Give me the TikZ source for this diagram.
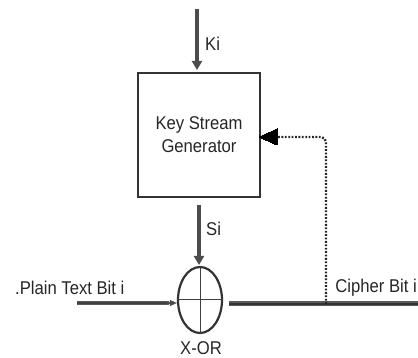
\documentclass[tikz,border=0pt]{standalone}
\usepackage{fontspec}
\usepackage{graphicx}
\setmainfont{Liberation Sans}
\usetikzlibrary{arrows.meta,shapes.geometric}
\newcommand{\condtxt}[1]{\scalebox{0.9}[1]{#1}}
\begin{document}
\begin{tikzpicture}[x=1pt,y=-1pt,
  lbl/.style={font=\fontsize{18.5}{20}\selectfont, text=black!85, inner sep=0pt},
  thickarrow/.style={line width=3.5pt, draw=black!70, -{Triangle[length=9pt,width=10pt]}},
  boxst/.style={draw=black!80, line width=2pt, minimum width=122pt, minimum height=124pt, inner sep=0pt},
  xorst/.style={draw=black!80, line width=2.2pt, ellipse, minimum width=44pt, minimum height=66pt, inner sep=0pt},
  crossst/.style={draw=black!75, line width=1pt},
  outline/.style={line width=5pt, draw=black!65},
  dottedst/.style={draw=black!85, line width=2.4pt, dash pattern=on 1.8pt off 1.6pt, rounded corners=5pt}]
\useasboundingbox (0,0) rectangle (418,358);
% nodes
\node[boxst] (ksg) at (199,135) {};
\node[lbl, align=center, font=\fontsize{18.5}{23}\selectfont] (ksgtext) at (ksg) {\condtxt{Key Stream}\\\condtxt{Generator}};
\node[xorst] (xor) at (200,300) {};
\coordinate (kin) at (197,9);
\coordinate (ksgtop) at (197,70);
\coordinate (ksgbot) at (199,205);
\coordinate (xtop) at (199,265);
\coordinate (pin) at (77,303);
\coordinate (cout) at (229,304);
\coordinate (cend) at (418,304);
\coordinate (tap) at (326,304);
\coordinate (corner) at (326,137);
\coordinate (ksgin) at (259,137);
% cross inside XOR
\draw[crossst] (xor.north) -- (xor.south);
\draw[crossst] (xor.west) -- (xor.east);
% arrows
\draw[thickarrow] (kin) -- (ksgtop);
\draw[thickarrow] (ksgbot) -- (xtop);
\draw[line width=4.5pt, draw=black!65] (pin) -- ([xshift=-8pt]xor.west |- pin);
\draw[line width=1.2pt, draw=black!75] (pin) -- ([xshift=-8pt]xor.west |- pin);
\draw[line width=1.2pt, draw=black!70, -{Triangle[length=7pt,width=6pt]}] ([xshift=-10pt]xor.west |- pin) -- (xor.west |- pin);
\draw[outline] (cout) -- (cend);
\draw[draw=black!80, line width=1.2pt] (cout) -- (cend);
\draw[dottedst] (tap) -- (corner) -- ([xshift=14pt]ksgin);
\draw[draw=black, line width=0pt, fill=black] (ksgin) -- ++(18,-8) -- ++(0,16) -- cycle;
% labels
\node[lbl, anchor=west] (ki) at (205,44) {\condtxt{Ki}};
\node[lbl, anchor=west] (si) at (206,229) {\condtxt{Si}};
\node[lbl, anchor=west] (plain) at (15,288) {\condtxt{.Plain Text Bit i}};
\node[lbl, anchor=east] (cipher) at (417,288) {\condtxt{Cipher Bit i}};
\node[lbl] (xorlbl) at (201,348) {\condtxt{X-OR}};
\end{tikzpicture}
\end{document}
